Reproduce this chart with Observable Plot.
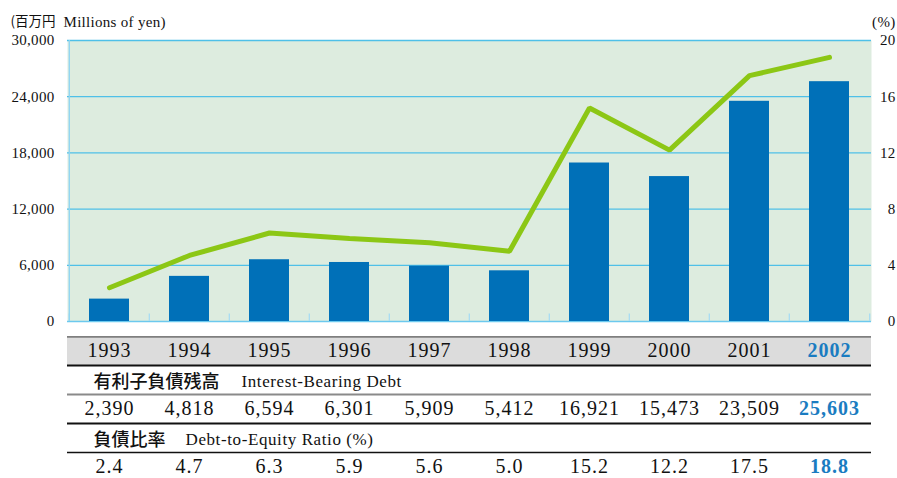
<!DOCTYPE html>
<html>
<head>
<meta charset="utf-8">
<script src="https://cdn.jsdelivr.net/npm/d3@7"></script>
<script src="https://cdn.jsdelivr.net/npm/@observablehq/plot@0.6"></script>
<style>
  html, body { margin: 0; padding: 0; background: #fff; }
  svg { display: block; }
</style>
</head>
<body>
<div id="chart"></div>
<script>
const years = ["1993","1994","1995","1996","1997","1998","1999","2000","2001","2002"];
const debt = [2390, 4818, 6594, 6301, 5909, 5412, 16921, 15473, 23509, 25603];
const ratio = [2.4, 4.7, 6.3, 5.9, 5.6, 5.0, 15.2, 12.2, 17.5, 18.8];
const leftTicks = [0, 6000, 12000, 18000, 24000, 30000];
const rightTicks = [0, 4, 8, 12, 16, 20];
const unitLeftJP = "(百万円";
const unitLeftEN = "Millions of yen)";
const unitRight = "(%)";
const row1JP = "有利子負債残高";
const row1EN = "Interest-Bearing Debt";
const row2JP = "負債比率";
const row2EN = "Debt-to-Equity Ratio (%)";
const highlight = "2002";

const data = years.map((y, i) => ({year: y, debt: debt[i], ratio: ratio[i]}));
const scaleRatio = 30000 / 20; // right axis maps onto left axis
const serif = "Liberation Serif";
const sans = "Noto Sans CJK JP";
const blue = "#0070b8";
const hiBlue = "#1a7cc1";
const green = "#8cc715";
const grid = "#4fc0e8";
const ink = "#111";
const W = 897, ML = 67, MR = 26;
const half = (W - ML - MR) / years.length / 2;

const xScale = {type: "band", domain: years, paddingInner: 0.5, paddingOuter: 0.25};

const main = Plot.plot({
  width: W, height: 336,
  marginTop: 40, marginBottom: 15, marginLeft: ML, marginRight: MR,
  style: {fontFamily: serif, fontSize: "15px", color: ink, background: "transparent"},
  x: {...xScale, axis: null},
  y: {domain: [0, 30000], axis: null},
  marks: [
    Plot.frame({fill: "#ddecdf", stroke: null}),
    Plot.ruleY(leftTicks.filter(d => d > 0), {stroke: grid, strokeWidth: 1.3}),
    Plot.ruleY([0], {stroke: "#6cc9ee", strokeWidth: 1.3}),
    Plot.ruleX(years, {x: d => d, dx: -half, y1: 0, y2: 800, stroke: "#a6dcf3", strokeWidth: 1.3}),
    Plot.ruleX([highlight], {x: d => d, dx: half, y1: 0, y2: 800, stroke: "#a6dcf3", strokeWidth: 1.3}),
    Plot.ruleX([years[0]], {x: d => d, dx: -half, stroke: "#8fd5f2", strokeWidth: 1.3}),
    Plot.barY(data, {x: "year", y: "debt", fill: blue}),
    Plot.line(data, {x: "year", y: d => d.ratio * scaleRatio, stroke: green, strokeWidth: 5, strokeLinejoin: "miter", strokeLinecap: "round"}),
    Plot.axisY({anchor: "left", label: null, ticks: leftTicks, tickSize: 0, tickPadding: 13, tickFormat: d3.format(","), fontFamily: serif, fontSize: 15, fill: ink}),
    Plot.axisY({anchor: "right", label: null, ticks: rightTicks.map(d => d * scaleRatio), tickSize: 0, tickPadding: 24, textAnchor: "end", tickFormat: d => d / scaleRatio, fontFamily: serif, fontSize: 15, fill: ink}),
    Plot.text([unitLeftJP], {frameAnchor: "top-left", dx: -57, dy: -24, text: d => d, textAnchor: "start", fontFamily: sans, fontSize: 13.5, fill: ink}),
    Plot.text([unitLeftEN], {frameAnchor: "top-left", dx: -4, dy: -24, text: d => d, textAnchor: "start", fontFamily: serif, fontSize: 15, fill: ink}),
    Plot.text([unitRight], {frameAnchor: "top-right", dx: 24, dy: -24, text: d => d, textAnchor: "end", fontFamily: serif, fontSize: 15, fill: ink})
  ]
});

const table = Plot.plot({
  width: W, height: 142,
  marginTop: 0, marginBottom: 0, marginLeft: ML, marginRight: MR,
  style: {fontFamily: serif, background: "transparent"},
  x: {...xScale, axis: null},
  y: {domain: [0, 5], range: [0, 145], axis: null},
  marks: [
    Plot.ruleY([0.5], {stroke: "#dcdcdc", strokeWidth: 28}),
    Plot.ruleY([0], {stroke: "#7f7f7f", strokeWidth: 2.5}),
    Plot.ruleY([1], {stroke: ink, strokeWidth: 2}),
    Plot.ruleY([2], {stroke: "#8a8a8a", strokeWidth: 2}),
    Plot.ruleY([3], {stroke: ink, strokeWidth: 2}),
    Plot.ruleY([4], {stroke: ink, strokeWidth: 1.3}),
    Plot.text(years, {filter: d => d !== highlight, x: d => d, y: 0.5, text: d => d, fontFamily: serif, fontSize: 20, fill: ink}),
    Plot.text(years, {filter: d => d === highlight, x: d => d, y: 0.5, text: d => d, fontFamily: serif, fontSize: 20, fontWeight: "bold", fill: hiBlue}),
    Plot.text([row1JP], {frameAnchor: "left", y: 1.5, dx: 26, dy: 2, text: d => d, textAnchor: "start", fontFamily: sans, fontSize: 18, fontWeight: 500, fill: ink}),
    Plot.text([row1EN], {frameAnchor: "left", y: 1.5, dx: 174, dy: 2, text: d => d, textAnchor: "start", fontFamily: serif, fontSize: 17, fill: ink}),
    Plot.text(data, {filter: d => d.year !== highlight, x: "year", y: 2.5, text: d => d3.format(",")(d.debt), fontFamily: serif, fontSize: 20, fill: ink}),
    Plot.text(data, {filter: d => d.year === highlight, x: "year", y: 2.5, text: d => d3.format(",")(d.debt), fontFamily: serif, fontSize: 20, fontWeight: "bold", fill: hiBlue}),
    Plot.text([row2JP], {frameAnchor: "left", y: 3.5, dx: 26, dy: 2, text: d => d, textAnchor: "start", fontFamily: sans, fontSize: 18, fontWeight: 500, fill: ink}),
    Plot.text([row2EN], {frameAnchor: "left", y: 3.5, dx: 118, dy: 2, text: d => d, textAnchor: "start", fontFamily: serif, fontSize: 17, fill: ink}),
    Plot.text(data, {filter: d => d.year !== highlight, x: "year", y: 4.5, text: d => d.ratio.toFixed(1), fontFamily: serif, fontSize: 20, fill: ink}),
    Plot.text(data, {filter: d => d.year === highlight, x: "year", y: 4.5, text: d => d.ratio.toFixed(1), fontFamily: serif, fontSize: 20, fontWeight: "bold", fill: hiBlue})
  ]
});

// letter spacing (style only) to match the wider typeface of the original
d3.select(table).selectAll("text").each(function() {
  const t = this.textContent;
  let ls = "1px";
  if (t === row1JP || t === row2JP) ls = "0px";
  else if (t === row1EN || t === row2EN) ls = "0.6px";
  this.style.letterSpacing = ls;
});
d3.select(main).selectAll("text").each(function() {
  const t = this.textContent;
  if (t !== unitLeftJP) this.style.letterSpacing = "0.3px";
});

document.getElementById("chart").append(main, table);
</script>
</body>
</html>
